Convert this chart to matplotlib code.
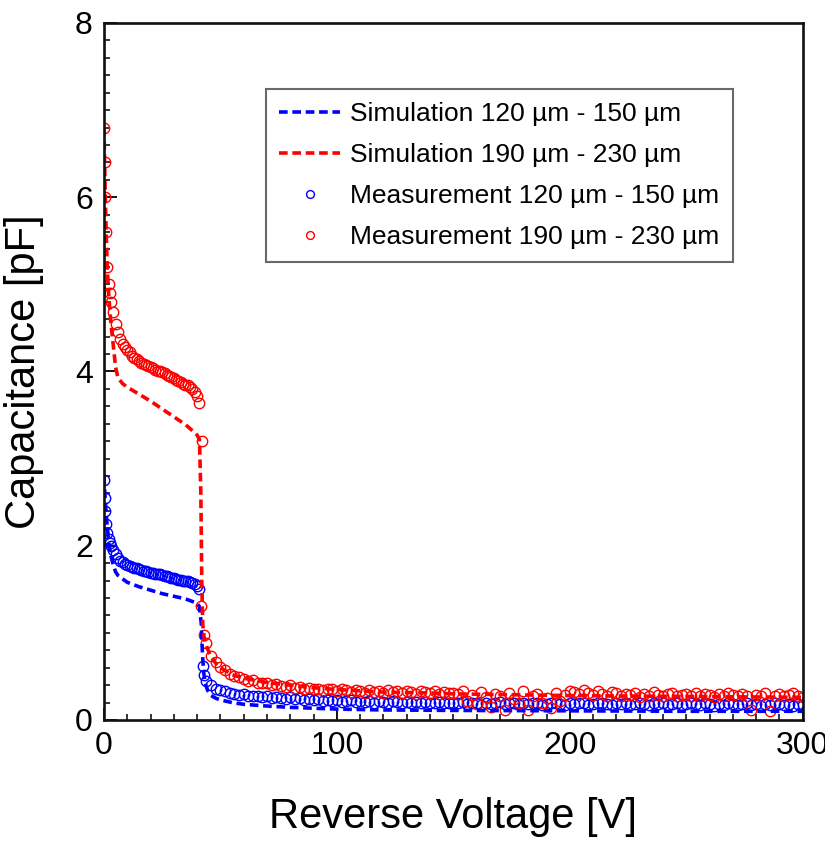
import numpy as np
import matplotlib
matplotlib.use("Agg")
import matplotlib.pyplot as plt

plt.rcParams['font.family'] = ['Liberation Sans', 'DejaVu Sans']

# ---------------- data ----------------
# Simulation 120-150 um (blue)
sim_blue_v = [0, 0.5, 1, 1.5, 2, 3, 4, 5, 6, 8, 10, 15, 20, 25, 30, 35, 38, 40, 41, 41.8, 42.3, 42.8,
              43.5, 44.5, 46, 48, 50, 55, 60, 70, 80, 90, 100, 120, 150, 200, 250, 300]
sim_blue_c = [2.8, 2.55, 2.35, 2.2, 2.05, 1.88, 1.78, 1.7, 1.66, 1.62, 1.58, 1.53, 1.49, 1.45, 1.42, 1.39, 1.36, 1.34, 1.3, 1.1, 0.75, 0.55,
              0.42, 0.34, 0.28, 0.25, 0.23, 0.2, 0.18, 0.16, 0.145, 0.135, 0.125, 0.115, 0.11, 0.105, 0.1, 0.1]

# Simulation 190-230 um (red)
sim_red_v = [0, 0.5, 1, 1.5, 2, 3, 4, 5, 6, 8, 10, 15, 20, 25, 30, 35, 38, 40, 41, 41.6, 42.0, 42.4,
             43, 44, 45.5, 48, 50, 55, 60, 70, 80, 90, 100, 120, 140, 150, 200, 250, 300]
sim_red_c = [6.8, 6.1, 5.55, 5.15, 4.9, 4.55, 4.3, 4.05, 3.93, 3.86, 3.82, 3.74, 3.66, 3.57, 3.48, 3.39, 3.32, 3.27, 3.22, 2.6, 1.6, 1.1,
             0.95, 0.85, 0.75, 0.65, 0.6, 0.52, 0.48, 0.43, 0.4, 0.37, 0.35, 0.32, 0.31, 0.3, 0.28, 0.27, 0.26]

# Measurement 120-150 um (blue)
meas_blue_v_early = [0, 0.3, 0.6, 1, 1.5, 2, 2.5] + list(range(3, 42)) + [42.5, 43]
meas_blue_c_early = [2.75, 2.55, 2.4, 2.25, 2.15, 2.08, 2.03,
                     2.0, 1.95, 1.9, 1.86, 1.83, 1.81, 1.79, 1.78, 1.77, 1.76, 1.75, 1.74, 1.73, 1.72,
                     1.71, 1.71, 1.70, 1.69, 1.69, 1.68, 1.67, 1.67, 1.66, 1.65, 1.65, 1.64, 1.63, 1.63,
                     1.62, 1.61, 1.61, 1.60, 1.59, 1.59, 1.58, 1.57, 1.56, 1.54, 1.50,
                     0.62, 0.52]
meas_blue_v_mid = list(range(44, 150, 2))
meas_blue_c_mid = [0.45, 0.40, 0.36, 0.34, 0.33, 0.31, 0.30, 0.29, 0.30, 0.28, 0.27, 0.28, 0.26, 0.27, 0.25, 0.26,
                   0.25, 0.24, 0.26, 0.24, 0.25, 0.23, 0.24, 0.23, 0.24, 0.22, 0.23, 0.22, 0.23, 0.21, 0.22, 0.23,
                   0.21, 0.22, 0.21, 0.22, 0.20, 0.22, 0.21, 0.20, 0.22, 0.21, 0.20, 0.21, 0.20, 0.21, 0.19, 0.21,
                   0.20, 0.19, 0.21, 0.20, 0.19]
meas_blue_v_tail = list(range(150, 301, 2))
meas_blue_c_tail = [0.20, 0.19, 0.21, 0.18, 0.20, 0.19, 0.17, 0.20, 0.18, 0.19, 0.21, 0.18, 0.19, 0.20, 0.17, 0.19,
                    0.18, 0.20, 0.19, 0.17, 0.18, 0.20, 0.19, 0.18, 0.17, 0.19,
                    0.18, 0.20, 0.19, 0.17, 0.18, 0.19, 0.20, 0.18, 0.17, 0.19, 0.18, 0.20, 0.17, 0.18, 0.19, 0.18,
                    0.17, 0.19, 0.18, 0.20, 0.17, 0.18, 0.19, 0.17, 0.18, 0.19, 0.18, 0.17, 0.19, 0.18, 0.16, 0.18,
                    0.17, 0.19, 0.18, 0.17, 0.18, 0.19, 0.17, 0.18, 0.16, 0.18, 0.17, 0.19, 0.18, 0.17, 0.18, 0.16,
                    0.18, 0.17]

# Measurement 190-230 um (red)
meas_red_v_early = [0, 0.3, 0.6, 1, 1.5, 2, 2.5] + list(range(3, 42)) + [41.5, 42, 43]
meas_red_c_early = [6.8, 6.4, 6.0, 5.6, 5.2, 5.0, 4.9,
                    4.8, 4.68, 4.55, 4.45, 4.37, 4.32, 4.28, 4.25, 4.22, 4.18, 4.16, 4.14, 4.12, 4.10,
                    4.085, 4.07, 4.06, 4.05, 4.035, 4.02, 4.01, 4.0, 3.99, 3.98, 3.965, 3.95, 3.935, 3.92,
                    3.905, 3.89, 3.875, 3.86, 3.85, 3.84, 3.82, 3.80, 3.77, 3.72, 3.64,
                    1.31, 3.2, 0.97]
meas_red_v_mid = list(range(44, 150, 2))
meas_red_c_mid = [0.88, 0.74, 0.66, 0.61, 0.57, 0.53, 0.50, 0.49, 0.47, 0.45, 0.46, 0.43, 0.42, 0.43, 0.40, 0.41,
                  0.39, 0.38, 0.40, 0.37, 0.38, 0.36, 0.37, 0.35, 0.36, 0.34, 0.36, 0.35, 0.33, 0.35, 0.34, 0.32,
                  0.34, 0.33, 0.31, 0.34, 0.32, 0.33, 0.31, 0.34, 0.32, 0.33, 0.31, 0.33, 0.32, 0.30, 0.33, 0.32,
                  0.31, 0.33, 0.30, 0.32, 0.31]
meas_red_v_tail = list(range(150, 301, 2))
meas_red_c_tail = [0.31, 0.30, 0.33, 0.22, 0.29, 0.18, 0.32, 0.26, 0.15, 0.30, 0.28, 0.12, 0.31, 0.24, 0.20, 0.33,
                   0.11, 0.27, 0.30, 0.19, 0.25, 0.14, 0.31, 0.22, 0.29, 0.33,
                   0.32, 0.30, 0.34, 0.31, 0.29, 0.33, 0.30, 0.28, 0.32, 0.31, 0.27, 0.30, 0.29, 0.31, 0.26, 0.30,
                   0.28, 0.32, 0.29, 0.27, 0.30, 0.31, 0.28, 0.29, 0.30, 0.27, 0.31, 0.28, 0.30, 0.29, 0.26, 0.30,
                   0.28, 0.31, 0.29, 0.27, 0.30, 0.28, 0.12, 0.29, 0.27, 0.31, 0.10, 0.28, 0.30, 0.27, 0.29, 0.31,
                   0.28, 0.26]

labels = ["Simulation 120 µm - 150 µm", "Simulation 190 µm - 230 µm",
          "Measurement 120 µm - 150 µm", "Measurement 190 µm - 230 µm"]
x_ticks = [0, 100, 200, 300]
y_ticks = [0, 2, 4, 6, 8]

meas_blue_v = meas_blue_v_early + meas_blue_v_mid + meas_blue_v_tail
meas_blue_c = meas_blue_c_early + meas_blue_c_mid + meas_blue_c_tail
meas_red_v = meas_red_v_early + meas_red_v_mid + meas_red_v_tail
meas_red_c = meas_red_c_early + meas_red_c_mid + meas_red_c_tail

# ---------------- plot ----------------
fig = plt.figure(figsize=(8.25, 8.41), dpi=100)
ax = fig.add_axes([0.126, 0.1439, 0.847, 0.8288])

BLUE = '#0000ff'
RED = '#ff0000'

h3, = ax.plot(meas_blue_v, meas_blue_c, linestyle='none', marker='o', markersize=7.5,
              markerfacecolor='none', markeredgecolor=BLUE, markeredgewidth=1.0, label=labels[2])
h4, = ax.plot(meas_red_v, meas_red_c, linestyle='none', marker='o', markersize=7.5,
              markerfacecolor='none', markeredgecolor=RED, markeredgewidth=1.0, label=labels[3])
h1, = ax.plot(sim_blue_v, sim_blue_c, color=BLUE, linewidth=2.6, dashes=(2.4, 1.3), label=labels[0])
h2, = ax.plot(sim_red_v, sim_red_c, color=RED, linewidth=2.6, dashes=(2.4, 1.3), label=labels[1])

ax.set_xlim(0, 300)
ax.set_ylim(0, 8)
ax.set_xticks(x_ticks)
ax.set_yticks(y_ticks)
ax.set_xticks(np.arange(0, 301, 10), minor=True)
ax.set_yticks(np.arange(0, 8.01, 0.2), minor=True)
ax.tick_params(which='major', direction='in', length=9, width=1.3, labelsize=23, pad=8,
               top=False, right=False)
ax.tick_params(which='minor', direction='in', length=4.5, width=1.1, top=False, right=False)
for s in ax.spines.values():
    s.set_linewidth(1.9)
    s.set_color('#111111')

ax.set_xlabel("Reverse Voltage [V]", fontsize=30, labelpad=26)
ax.set_ylabel("Capacitance [pF]", fontsize=30, labelpad=22)

leg = fig.legend(handles=[h1, h2, h3, h4], loc='upper left', bbox_to_anchor=(0.3224, 0.8942),
                 bbox_transform=fig.transFigure, fontsize=19, frameon=True, fancybox=False,
                 edgecolor='#444444', handlelength=2.3, handletextpad=0.4, labelspacing=0.64,
                 borderpad=0.5, borderaxespad=0, markerscale=0.75)
leg.get_frame().set_linewidth(1.5)

fig.savefig("out.png", dpi=100)
